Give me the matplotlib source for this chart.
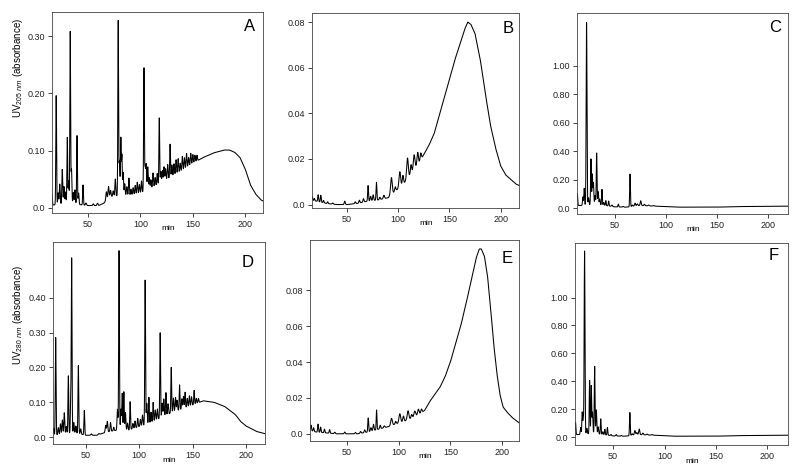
import matplotlib.pyplot as plt
import numpy as np
from matplotlib.ticker import FuncFormatter

plt.rcParams['font.family'] = ['Liberation Sans', 'DejaVu Sans']
plt.rcParams['mathtext.fontset'] = 'custom'
plt.rcParams['mathtext.rm'] = 'Liberation Sans'

# ---- A: chromatogram, UV 205 nm ----
a_base_t = [14, 20, 30, 40, 50, 60, 65, 70, 80, 90, 100, 110, 120, 130, 140, 150, 160, 170, 180, 185, 190, 195, 200, 205, 210, 215, 220]
a_base_y = [0.004, 0.006, 0.008, 0.006, 0.004, 0.004, 0.008, 0.018, 0.022, 0.022, 0.026, 0.034, 0.044, 0.055, 0.065, 0.078, 0.088, 0.096, 0.101, 0.101, 0.097, 0.088, 0.068, 0.040, 0.024, 0.014, 0.009]
a_peaks = [(15.5, 0.02, 0.4), (19.6, 0.19, 0.35), (21.5, 0.02, 0.4), (23, 0.035, 0.4), (25.4, 0.06, 0.4),
           (27, 0.03, 0.4), (28.5, 0.02, 0.4), (30.2, 0.115, 0.35), (31.5, 0.04, 0.4), (33.0, 0.30, 0.35),
           (34.2, 0.06, 0.4), (36, 0.02, 0.4), (37.5, 0.025, 0.4), (39.5, 0.12, 0.35), (41, 0.02, 0.4),
           (45.2, 0.035, 0.35), (48, 0.004, 0.5), (55, 0.003, 0.5), (59, 0.004, 0.5), (67.5, 0.015, 0.5),
           (69.5, 0.02, 0.5), (71.5, 0.012, 0.5), (74, 0.01, 0.5), (76, 0.03, 0.4), (78.8, 0.305, 0.35),
           (80, 0.06, 0.4), (81.3, 0.10, 0.35), (82.3, 0.07, 0.35), (83.5, 0.04, 0.4), (85, 0.02, 0.4),
           (87, 0.015, 0.4), (89, 0.03, 0.4), (91, 0.01, 0.4), (93, 0.012, 0.4), (95, 0.015, 0.4),
           (97, 0.02, 0.4), (99, 0.015, 0.4), (101, 0.02, 0.4), (103.4, 0.215, 0.35), (104.5, 0.04, 0.4),
           (105.5, 0.045, 0.4), (107, 0.04, 0.4), (108.5, 0.02, 0.4), (110, 0.015, 0.4), (112, 0.025, 0.4),
           (114, 0.015, 0.4), (116, 0.02, 0.4), (118, 0.115, 0.35), (119.5, 0.02, 0.4), (121, 0.02, 0.4),
           (122.5, 0.025, 0.4), (124, 0.02, 0.4), (126, 0.025, 0.4), (128.3, 0.058, 0.35), (130, 0.02, 0.4),
           (132, 0.02, 0.4), (134, 0.025, 0.4), (136, 0.025, 0.4), (138, 0.015, 0.4), (140, 0.025, 0.4),
           (142, 0.02, 0.4), (144, 0.025, 0.4), (146, 0.015, 0.4), (148, 0.02, 0.4), (150, 0.015, 0.4),
           (152, 0.012, 0.4), (154, 0.01, 0.4)]

# ---- B: UV 205 nm, broad hump ----
b_base_t = [14, 20, 30, 40, 50, 60, 65, 70, 80, 90, 95, 100, 105, 110, 115, 120, 125, 130, 135, 140, 145, 150, 155, 160, 165, 168,
            171, 175, 180, 185, 190, 195, 200, 205, 210, 215, 220]
b_base_y = [0.002, 0.0015, 0.0005, 0.0, 0.0, 0.0005, 0.001, 0.0015, 0.002, 0.003, 0.005, 0.007, 0.009, 0.012, 0.015, 0.018, 0.022,
            0.026, 0.031, 0.039, 0.047, 0.055, 0.063, 0.070, 0.077, 0.080, 0.079, 0.075, 0.064, 0.049, 0.035, 0.025, 0.017, 0.013,
            0.011, 0.009, 0.008]
b_peaks = [(16, 0.0015, 0.4), (18, 0.001, 0.4), (21.7, 0.003, 0.4), (24.3, 0.003, 0.4), (27, 0.001, 0.4), (31, 0.0008, 0.4),
           (36, 0.0005, 0.5), (47.7, 0.0015, 0.5), (58, 0.0008, 0.5), (62, 0.0012, 0.5), (66, 0.0015, 0.5),
           (70.5, 0.0068, 0.4), (73, 0.002, 0.5), (75.5, 0.0025, 0.5), (78.7, 0.0078, 0.4), (82, 0.001, 0.5),
           (86, 0.0015, 0.6), (93.3, 0.0075, 0.8), (97, 0.002, 0.6), (101.5, 0.0068, 0.8), (104.5, 0.004, 0.6),
           (109, 0.009, 0.8), (112.5, 0.004, 0.6), (115.5, 0.0065, 0.8), (119, 0.0055, 0.7), (122, 0.003, 0.6)]

# ---- C: chromatogram, early eluting ----
c_base_t = [12, 20, 30, 40, 50, 60, 65, 70, 75, 80, 90, 100, 110, 150, 170, 220]
c_base_y = [0.02, 0.02, 0.03, 0.02, 0.01, 0.008, 0.01, 0.018, 0.02, 0.018, 0.015, 0.012, 0.008, 0.008, 0.012, 0.015]
c_peaks = [(13, 0.085, 0.35), (18.5, 0.06, 0.4), (19.8, 0.12, 0.35), (22.1, 1.28, 0.4), (24, 0.05, 0.4),
           (26.4, 0.32, 0.35), (27.7, 0.21, 0.35), (28.8, 0.15, 0.4), (30.5, 0.06, 0.4), (32, 0.36, 0.35),
           (33.5, 0.09, 0.4), (35, 0.04, 0.4), (37.2, 0.11, 0.35), (39, 0.02, 0.4), (41, 0.035, 0.35),
           (43.8, 0.035, 0.35), (47, 0.01, 0.5), (53.3, 0.02, 0.4), (58, 0.005, 0.5), (64.8, 0.23, 0.35),
           (67, 0.01, 0.5), (69.7, 0.018, 0.5), (72, 0.012, 0.5), (75.3, 0.033, 0.5), (79, 0.01, 0.5),
           (83, 0.006, 0.5), (88, 0.004, 0.6)]

# ---- D: chromatogram, UV 280 nm ----
d_base_t = [18, 20, 30, 40, 50, 60, 70, 80, 90, 100, 110, 120, 130, 140, 150, 160, 170, 180, 190, 195, 200, 205, 210, 220]
d_base_y = [0.005, 0.005, 0.01, 0.012, 0.005, 0.005, 0.015, 0.02, 0.02, 0.03, 0.04, 0.055, 0.07, 0.08, 0.092, 0.104, 0.1,
            0.088, 0.065, 0.045, 0.032, 0.024, 0.016, 0.008]
d_peaks = [(19.5, 0.02, 0.4), (21.5, 0.28, 0.35), (24, 0.02, 0.4), (26, 0.03, 0.4), (27.8, 0.04, 0.4), (29.6, 0.06, 0.4),
           (31.5, 0.02, 0.4), (33.4, 0.165, 0.35), (35.6, 0.085, 0.35), (36.5, 0.5, 0.35), (38.5, 0.03, 0.4),
           (40.5, 0.02, 0.4), (42.8, 0.195, 0.35), (45, 0.015, 0.4), (48.4, 0.07, 0.35), (55, 0.004, 0.5),
           (62, 0.003, 0.5), (68.5, 0.02, 0.5), (70, 0.03, 0.4), (73, 0.025, 0.4), (76, 0.01, 0.4),
           (79.5, 0.06, 0.4), (81, 0.515, 0.35), (82.8, 0.06, 0.4), (84, 0.105, 0.35), (85.5, 0.11, 0.35),
           (87, 0.05, 0.4), (89, 0.02, 0.4), (91.4, 0.08, 0.35), (94, 0.015, 0.4), (96, 0.02, 0.4), (98.5, 0.025, 0.4),
           (101, 0.02, 0.4), (103, 0.03, 0.4), (105.5, 0.415, 0.35), (107, 0.06, 0.4), (109, 0.075, 0.35),
           (111, 0.03, 0.4), (113, 0.055, 0.35), (115, 0.03, 0.4), (117, 0.03, 0.4), (119.6, 0.245, 0.35),
           (121.5, 0.04, 0.4), (123, 0.05, 0.4), (125, 0.065, 0.35), (127, 0.03, 0.4), (130, 0.13, 0.35),
           (132, 0.04, 0.4), (134, 0.04, 0.4), (135.5, 0.03, 0.4), (137.8, 0.072, 0.35), (140, 0.03, 0.4),
           (141.5, 0.035, 0.4), (143, 0.045, 0.35), (145, 0.025, 0.4), (147, 0.03, 0.4), (149, 0.025, 0.4),
           (151.5, 0.04, 0.35), (153.5, 0.015, 0.4), (155.5, 0.012, 0.4)]

# ---- E: UV 280 nm, broad hump ----
e_base_t = [14, 20, 30, 40, 50, 60, 65, 70, 80, 90, 100, 110, 120, 125, 130, 140, 145, 150, 155, 160, 165, 170, 175, 178,
            180, 183, 186, 189, 192, 195, 198, 201, 205, 210, 217]
e_base_y = [0.002, 0.001, 0.0005, 0.0, 0.0, 0.0, 0.0005, 0.001, 0.0025, 0.004, 0.006, 0.008, 0.011, 0.013, 0.018, 0.026,
            0.032, 0.040, 0.050, 0.060, 0.072, 0.085, 0.098, 0.103, 0.103, 0.099, 0.088, 0.070, 0.050, 0.034, 0.022,
            0.015, 0.012, 0.009, 0.006]
e_peaks = [(15, 0.003, 0.4), (17.5, 0.002, 0.4), (21.8, 0.0045, 0.4), (24.3, 0.003, 0.4), (28, 0.002, 0.4),
           (33, 0.002, 0.4), (38, 0.0008, 0.5), (47.7, 0.001, 0.5), (58, 0.0008, 0.5), (63, 0.001, 0.5),
           (67, 0.0015, 0.5), (70.4, 0.0078, 0.4), (73, 0.002, 0.5), (75.5, 0.0035, 0.5), (78.5, 0.011, 0.35),
           (82, 0.002, 0.5), (86, 0.001, 0.6), (93, 0.004, 0.8), (97, 0.0015, 0.6), (101, 0.005, 0.8),
           (104.5, 0.003, 0.6), (109, 0.005, 0.8), (112.5, 0.002, 0.6), (115.5, 0.003, 0.8), (119, 0.003, 0.7),
           (122, 0.002, 0.6)]

# ---- F: early eluting, UV 280 nm ----
f_base_t = [12, 20, 30, 40, 50, 60, 65, 70, 75, 80, 90, 100, 110, 150, 170, 220]
f_base_y = [0.02, 0.02, 0.03, 0.02, 0.01, 0.008, 0.01, 0.018, 0.02, 0.018, 0.015, 0.012, 0.008, 0.008, 0.012, 0.015]
f_peaks = [(13.5, 0.087, 0.35), (18.5, 0.05, 0.4), (20, 0.16, 0.35), (21, 0.12, 0.35), (22.3, 1.31, 0.4),
           (24.5, 0.04, 0.4), (27.2, 0.38, 0.35), (28.8, 0.34, 0.35), (30, 0.15, 0.4), (32.1, 0.48, 0.35),
           (33.7, 0.17, 0.4), (35.5, 0.05, 0.4), (38, 0.11, 0.35), (40, 0.02, 0.4), (42, 0.04, 0.35),
           (44.5, 0.055, 0.35), (48, 0.008, 0.5), (53, 0.01, 0.5), (58, 0.005, 0.5), (66.3, 0.165, 0.35),
           (68.5, 0.01, 0.5), (71.2, 0.03, 0.5), (73, 0.015, 0.5), (75.4, 0.04, 0.5), (79, 0.012, 0.5),
           (83, 0.006, 0.5), (88, 0.004, 0.6)]

ylabel_a = 'UV$_{205\\ nm}$ (absorbance)'
ylabel_d = 'UV$_{280\\ nm}$ (absorbance)'
a_ticks = [0.0, 0.10, 0.20, 0.30]
b_ticks = [0.0, 0.02, 0.04, 0.06, 0.08]
c_ticks = [0.0, 0.20, 0.40, 0.60, 0.80, 1.00]
d_ticks = [0.0, 0.10, 0.20, 0.30, 0.40]
x_ticks = [50, 100, 150, 200]


def trace(base_t, base_y, peaks, t0, t1):
    t = np.arange(t0, t1, 0.05)
    y = np.interp(t, base_t, base_y)
    for c, h, w in peaks:
        y = y + h * np.exp(-0.5 * ((t - c) / w) ** 2)
    return t, y


def fmt(v, pos):
    return '0.0' if abs(v) < 1e-9 else '%.2f' % v


W, H = 800, 472
fig = plt.figure(figsize=(8, 4.72), dpi=100)

# (pixel box l, r, top, bottom), xlim, ylim, data, ticks, letter, letter pos
panels = [
    ((52, 263, 12, 213), (15.6, 217), (-0.009, 0.342), (a_base_t, a_base_y, a_peaks), a_ticks, 'A', (0.938, 0.926), ylabel_a, 0.72),
    ((312, 519, 13, 208), (15.7, 218), (-0.0015, 0.084), (b_base_t, b_base_y, b_peaks), b_ticks, 'B', (0.947, 0.923), None, 0),
    ((577, 788, 13, 214), (12.7, 220), (-0.04, 1.37), (c_base_t, c_base_y, c_peaks), c_ticks, 'C', (0.938, 0.926), None, 0),
    ((53, 265, 242, 444), (19, 218), (-0.02, 0.56), (d_base_t, d_base_y, d_peaks), d_ticks, 'D', (0.92, 0.90), ylabel_d, 0.64),
    ((310, 519, 240, 441), (14, 216.5), (-0.004, 0.108), (e_base_t, e_base_y, e_peaks), b_ticks, 'E', (0.943, 0.91), None, 0),
    ((575, 788, 243, 445), (13, 220), (-0.055, 1.39), (f_base_t, f_base_y, f_peaks), c_ticks, 'F', (0.934, 0.936), None, 0),
]

for box, xl, yl, data, yt, letter, lpos, ylab, ly in panels:
    l, r, top, bot = box
    ax = fig.add_axes([l / W, (H - bot) / H, (r - l) / W, (bot - top) / H])
    t, y = trace(data[0], data[1], data[2], xl[0], xl[1])
    ax.plot(t, y, color='black', linewidth=0.75)
    ax.set_xlim(*xl)
    ax.set_ylim(*yl)
    ax.set_xticks(x_ticks)
    ax.set_yticks(yt)
    ax.yaxis.set_major_formatter(FuncFormatter(fmt))
    ax.tick_params(direction='out', length=3, width=0.6, labelsize=6.5, pad=2, colors='#222222')
    for s in ax.spines.values():
        s.set_linewidth(0.6)
        s.set_color('#444444')
    ax.set_xlabel('min', fontsize=6)
    ax.xaxis.set_label_coords(0.55, -0.062)
    if ylab:
        ax.set_ylabel(ylab, fontsize=7)
        ax.yaxis.set_label_coords(-0.13, ly)
    ax.text(lpos[0], lpos[1], letter, transform=ax.transAxes, fontsize=12, ha='center', va='center')

fig.savefig('out.png', dpi=100)
